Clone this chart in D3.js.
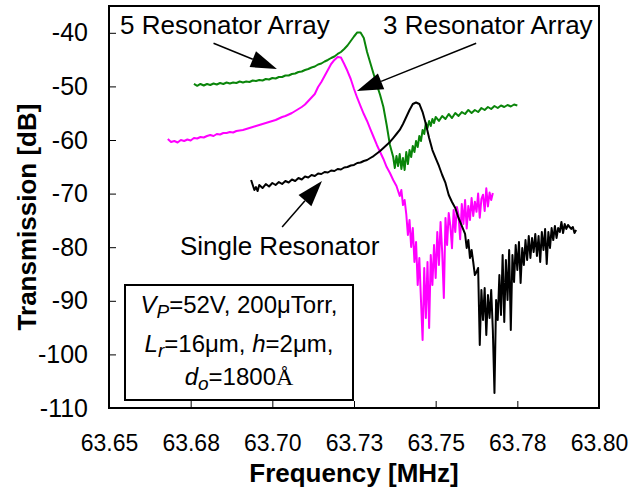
<!DOCTYPE html>
<html><head><meta charset="utf-8">
<script src="https://cdn.jsdelivr.net/npm/d3@7"></script>
<style>
body{margin:0;background:#fff}
svg{display:block}
text{font-family:"Liberation Sans",Arial,Helvetica,sans-serif;fill:#000}
</style>
</head><body>
<svg id="chart" width="631" height="490"></svg>
<script>
// ---------- data ----------
const xTicks = [63.65, 63.675, 63.70, 63.725, 63.75, 63.775, 63.80];
const xTickLabels = ["63.65", "63.68", "63.70", "63.73", "63.75", "63.78", "63.80"];
const yTicks = [-110, -100, -90, -80, -70, -60, -50, -40];
const yTickLabels = ["-110", "-100", "-90", "-80", "-70", "-60", "-50", "-40"];
const xTitle = "Frequency [MHz]";
const yTitle = "Transmission [dB]";
const seriesNames = ["5 Resonator Array", "3 Resonator Array", "Single Resonator"];
const seriesColors = ["#0a850a", "#ff00ff", "#000000"];

// 5 resonator array [frequency MHz, transmission dB]
const fiveResonator = [
[63.676,-49.55],[63.677,-49.90],[63.678,-49.55],[63.679,-49.83],[63.680,-49.55],[63.681,-49.74],[63.682,-49.46],[63.683,-49.65],[63.684,-49.37],[63.685,-49.55],
[63.686,-49.27],[63.687,-49.46],[63.688,-49.27],[63.689,-49.37],[63.690,-49.09],[63.691,-49.27],[63.692,-49.09],[63.693,-49.18],[63.694,-48.90],[63.695,-48.99],
[63.696,-48.81],[63.697,-48.90],[63.698,-48.62],[63.699,-48.71],[63.700,-48.43],[63.701,-48.53],[63.702,-48.25],[63.703,-48.25],[63.704,-47.97],[63.705,-47.97],
[63.706,-47.69],[63.707,-47.59],[63.708,-47.31],[63.709,-47.22],[63.710,-46.94],[63.711,-46.75],[63.712,-46.47],[63.713,-46.29],[63.714,-45.91],[63.715,-45.73],
[63.716,-45.35],[63.717,-45.07],[63.718,-44.70],[63.719,-44.42],[63.720,-43.95],[63.721,-43.58],[63.722,-43.02],[63.723,-42.37],[63.724,-41.53],[63.725,-40.69],
[63.726,-39.94],[63.727,-39.94],[63.728,-40.97],[63.729,-43.58],[63.730,-45.63],[63.731,-47.69],[63.732,-49.74],[63.733,-51.60],[63.734,-53.84],[63.735,-57.20],
[63.736,-60.93],[63.737,-63.17],[63.7375,-65.22],[63.738,-62.99],[63.7385,-64.85],[63.739,-62.61],[63.7395,-65.41],[63.740,-63.36],[63.7405,-65.60],[63.741,-62.24],
[63.7415,-64.48],[63.742,-61.87],[63.7425,-63.17],[63.743,-61.12],[63.7435,-62.24],[63.744,-60.19],[63.7445,-61.31],[63.745,-59.25],[63.7455,-60.19],[63.746,-58.13],
[63.7465,-58.88],[63.747,-56.83],[63.7475,-57.76],[63.748,-56.45],[63.7485,-57.39],[63.749,-56.08],[63.7495,-56.83],[63.750,-55.71],[63.751,-56.45],[63.752,-55.52],
[63.753,-56.08],[63.754,-55.15],[63.755,-55.90],[63.756,-54.96],[63.757,-55.52],[63.758,-54.78],[63.759,-55.15],[63.760,-54.40],[63.761,-54.96],[63.762,-54.40],
[63.763,-54.78],[63.764,-54.03],[63.765,-54.40],[63.766,-53.84],[63.767,-54.22],[63.768,-53.66],[63.769,-54.03],[63.770,-53.56],[63.771,-53.84],[63.772,-53.47],
[63.773,-53.75],[63.774,-53.38],[63.775,-53.56]
];

// 3 resonator array
const threeResonator = [
[63.668,-59.81],[63.669,-60.37],[63.670,-60.19],[63.671,-60.47],[63.672,-60.00],[63.673,-60.19],[63.674,-59.91],[63.675,-60.09],[63.676,-59.63],[63.677,-59.72],
[63.678,-59.44],[63.679,-59.53],[63.680,-59.25],[63.681,-59.07],[63.682,-59.25],[63.683,-58.88],[63.684,-58.97],[63.685,-58.69],[63.686,-58.69],[63.687,-58.51],
[63.688,-58.60],[63.689,-58.32],[63.690,-58.23],[63.691,-58.13],[63.692,-57.95],[63.693,-57.76],[63.694,-57.57],[63.695,-57.39],[63.696,-57.20],[63.697,-57.01],
[63.698,-56.83],[63.699,-56.64],[63.700,-56.45],[63.701,-56.27],[63.702,-55.99],[63.703,-55.71],[63.704,-55.52],[63.705,-55.24],[63.706,-54.96],[63.707,-54.59],
[63.708,-54.22],[63.709,-53.84],[63.710,-53.38],[63.711,-52.72],[63.712,-52.07],[63.713,-51.42],[63.714,-50.11],[63.715,-49.18],[63.716,-48.06],[63.717,-46.94],
[63.718,-45.82],[63.719,-45.07],[63.720,-44.51],[63.721,-44.61],[63.722,-45.82],[63.723,-47.13],[63.724,-48.62],[63.725,-50.48],[63.726,-52.16],[63.727,-53.66],
[63.728,-55.15],[63.729,-56.45],[63.730,-57.95],[63.731,-59.44],[63.732,-60.93],[63.733,-62.24],[63.734,-63.54],[63.735,-65.04],[63.736,-66.16],[63.737,-67.46],
[63.738,-68.58],[63.739,-70.45],[63.7395,-69.33],[63.740,-72.13],[63.7405,-71.20],[63.741,-73.81],[63.7415,-77.72],[63.742,-74.92],[63.7425,-79.96],[63.743,-76.42],
[63.7435,-82.76],[63.744,-79.03],[63.7445,-87.05],[63.745,-82.02],[63.7455,-89.85],[63.746,-97.31],[63.7465,-83.88],[63.747,-93.21],[63.7475,-82.76],[63.748,-95.07],
[63.7485,-81.46],[63.749,-87.05],[63.7495,-79.59],[63.750,-85.75],[63.7505,-77.16],[63.751,-83.32],[63.7515,-75.30],[63.752,-80.90],[63.7525,-89.48],[63.753,-74.55],
[63.7535,-79.59],[63.754,-73.62],[63.7545,-76.00],[63.755,-80.20],[63.7555,-73.06],[63.756,-77.16],[63.7565,-72.50],[63.757,-74.00],[63.7575,-78.50],[63.758,-71.94],
[63.7585,-75.67],[63.759,-71.19],[63.7595,-76.50],[63.760,-72.30],[63.7605,-74.92],[63.761,-70.82],[63.7615,-74.18],[63.762,-71.50],[63.7625,-73.40],[63.763,-70.00],
[63.7635,-74.50],[63.764,-71.01],[63.7645,-70.20],[63.765,-73.25],[63.7655,-69.00],[63.766,-72.40],[63.7665,-69.80],[63.767,-71.20],[63.7675,-69.90]
];

// single resonator
const singleResonator = [
[63.6935,-67.46],[63.694,-68.40],[63.6945,-69.33],[63.695,-68.77],[63.6955,-69.52],[63.696,-68.40],[63.697,-68.96],[63.698,-68.21],[63.699,-68.68],[63.700,-68.02],
[63.701,-68.40],[63.702,-67.84],[63.703,-68.21],[63.704,-67.65],[63.705,-67.93],[63.706,-67.37],[63.707,-67.65],[63.708,-67.09],[63.709,-67.37],[63.710,-66.81],
[63.711,-67.00],[63.712,-66.53],[63.713,-66.72],[63.714,-66.25],[63.715,-66.34],[63.716,-65.97],[63.717,-66.06],[63.718,-65.69],[63.719,-65.78],[63.720,-65.41],
[63.721,-65.50],[63.722,-65.13],[63.723,-65.04],[63.724,-64.76],[63.725,-64.66],[63.726,-64.29],[63.727,-64.20],[63.728,-63.92],[63.729,-63.73],[63.730,-63.36],
[63.731,-62.99],[63.732,-62.52],[63.733,-62.05],[63.734,-61.49],[63.735,-60.93],[63.736,-60.37],[63.737,-59.63],[63.738,-58.88],[63.739,-58.13],[63.740,-57.01],
[63.741,-55.71],[63.742,-54.40],[63.743,-53.28],[63.744,-53.00],[63.745,-53.28],[63.746,-54.78],[63.747,-57.01],[63.748,-59.63],[63.749,-61.87],[63.750,-63.36],
[63.751,-64.85],[63.752,-66.53],[63.753,-68.02],[63.754,-70.26],[63.755,-71.57],[63.756,-72.69],[63.757,-74.55],[63.758,-76.04],[63.759,-77.53],[63.7595,-80.15],
[63.760,-78.66],[63.7605,-82.02],[63.761,-80.52],[63.7615,-82.76],[63.762,-85.19],[63.7625,-84.63],[63.763,-83.88],[63.7635,-98.25],[63.764,-88.00],[63.7645,-93.58],
[63.765,-87.61],[63.7655,-96.38],[63.766,-88.92],[63.7665,-93.21],[63.767,-88.00],[63.7675,-95.45],[63.768,-107.20],[63.7685,-89.85],[63.769,-93.58],[63.7695,-85.19],
[63.770,-92.65],[63.7705,-81.46],[63.771,-93.96],[63.7715,-82.39],[63.772,-89.85],[63.7725,-80.52],[63.773,-95.45],[63.7735,-81.46],[63.774,-86.49],[63.7745,-79.59],
[63.775,-84.26],[63.7755,-79.03],[63.776,-86.68],[63.7765,-80.15],[63.777,-83.32],[63.7775,-78.66],[63.778,-82.39],[63.7785,-77.91],[63.779,-82.02],[63.7795,-78.28],
[63.780,-80.90],[63.7805,-77.53],[63.781,-81.64],[63.7815,-77.91],[63.782,-82.76],[63.7825,-77.16],[63.783,-80.52],[63.7835,-76.60],[63.784,-83.13],[63.7845,-77.16],
[63.785,-80.15],[63.7855,-76.42],[63.786,-78.66],[63.7865,-76.04],[63.787,-78.28],[63.7875,-76.42],[63.788,-77.16],[63.7885,-75.30],[63.789,-77.35],[63.7895,-75.67],
[63.790,-76.60],[63.7905,-75.86],[63.791,-76.23],[63.7915,-76.60],[63.792,-76.23],[63.7925,-77.35],[63.793,-76.79]
];

// annotation labels and arrows (data coordinates: frequency, dB)
const labelPos = [[63.6534, -40.2], [63.7339, -40.2], [63.6717, -81.45]];
const arrowTail = [[63.6820, -41.96], [63.7624, -41.96], [63.7030, -76.23]];
const arrowTip  = [[63.7014, -46.75], [63.7259, -50.86], [63.7152, -67.65]];

// ---------- layout ----------
const W = 631, H = 490;
const L = 109, R = 599, T = 6, B = 408;
const svg = d3.select("#chart");
const x = d3.scaleLinear().domain([63.65, 63.80]).range([L, R]);
const y = d3.scaleLinear().domain([-110, -35]).range([B, T]);

// axes
const xAxis = d3.axisBottom(x).tickValues(xTicks)
  .tickFormat((d, i) => xTickLabels[i]).tickSizeInner(-7).tickSizeOuter(0).tickPadding(27);
const gx = svg.append("g").attr("transform", `translate(0,${B})`).call(xAxis);
gx.select(".domain").remove();
gx.selectAll(".tick line").attr("stroke", "#000").attr("stroke-width", 1);
gx.selectAll(".tick text").attr("font-size", 23).attr("font-family", "Liberation Sans, Arial, sans-serif").attr("fill", "#000");

const yAxis = d3.axisLeft(y).tickValues(yTicks)
  .tickFormat((d, i) => yTickLabels[i]).tickSizeInner(-7).tickSizeOuter(0).tickPadding(21);
const gy = svg.append("g").attr("transform", `translate(${L},0)`).call(yAxis);
gy.select(".domain").remove();
gy.selectAll(".tick line").attr("stroke", "#000").attr("stroke-width", 1);
gy.selectAll(".tick text").attr("font-size", 25).attr("font-family", "Liberation Sans, Arial, sans-serif").attr("fill", "#000");

// frame
svg.append("rect").attr("x", L).attr("y", T).attr("width", R - L).attr("height", B - T)
  .attr("fill", "none").attr("stroke", "#000").attr("stroke-width", 2);

// axis titles
svg.append("text").attr("x", (L + R) / 2).attr("y", 482).attr("text-anchor", "middle")
  .attr("font-size", 26).attr("font-weight", "bold").text(xTitle);
svg.append("text").attr("transform", `translate(36,${(T + B) / 2 + 10}) rotate(-90)`)
  .attr("text-anchor", "middle").attr("font-size", 26).attr("font-weight", "bold").text(yTitle);

// series
const line = d3.line().x(d => x(d[0])).y(d => y(d[1]));
[fiveResonator, threeResonator, singleResonator].forEach((s, i) => {
  svg.append("path").datum(s).attr("d", line).attr("fill", "none")
    .attr("stroke", seriesColors[i]).attr("stroke-width", 2).attr("stroke-linejoin", "round");
});

// annotation labels
seriesNames.forEach((n, i) => {
  svg.append("text").attr("x", x(labelPos[i][0])).attr("y", y(labelPos[i][1]))
    .attr("font-size", 26).text(n);
});

// arrows
arrowTail.forEach((t, i) => {
  const x0 = x(t[0]), y0 = y(t[1]);
  const x1 = x(arrowTip[i][0]), y1 = y(arrowTip[i][1]);
  const dx = x1 - x0, dy = y1 - y0, len = Math.hypot(dx, dy);
  const ux = dx / len, uy = dy / len;
  const hl = 26, hw = 8.5;
  const bx = x1 - ux * hl, by = y1 - uy * hl;
  svg.append("line").attr("x1", x0).attr("y1", y0).attr("x2", bx).attr("y2", by)
    .attr("stroke", "#000").attr("stroke-width", 1.5);
  svg.append("polygon")
    .attr("points", [[x1, y1], [bx - uy * hw, by + ux * hw], [bx + uy * hw, by - ux * hw]].map(p => p.join(",")).join(" "))
    .attr("fill", "#000");
});

// parameter box
const box = svg.append("g");
box.append("rect").attr("x", 125).attr("y", 285).attr("width", 228).attr("height", 115)
  .attr("fill", "#fff").attr("stroke", "#000").attr("stroke-width", 2);
const cx = 239, fs = 24, sfs = 19;
const t1 = box.append("text").attr("x", cx).attr("y", 313).attr("text-anchor", "middle").attr("font-size", fs);
t1.append("tspan").attr("font-style", "italic").text("V");
t1.append("tspan").attr("font-style", "italic").attr("font-size", sfs).attr("dy", 5).text("P");
t1.append("tspan").attr("dy", -5).text("=52V, 200\u03bcTorr,");
const t2 = box.append("text").attr("x", cx).attr("y", 352).attr("text-anchor", "middle").attr("font-size", fs);
t2.append("tspan").attr("font-style", "italic").text("L");
t2.append("tspan").attr("font-style", "italic").attr("font-size", sfs).attr("dy", 5).text("r");
t2.append("tspan").attr("dy", -5).text("=16\u03bcm, ");
t2.append("tspan").attr("font-style", "italic").text("h");
t2.append("tspan").text("=2\u03bcm,");
const t3 = box.append("text").attr("x", cx).attr("y", 385).attr("text-anchor", "middle").attr("font-size", fs);
t3.append("tspan").attr("font-style", "italic").text("d");
t3.append("tspan").attr("font-style", "italic").attr("font-size", sfs).attr("dy", 5).text("o");
t3.append("tspan").attr("dy", -5).text("=1800");
t3.append("tspan").attr("font-family", "Liberation Serif, Times New Roman, serif").text("\u00c5");
</script>
</body></html>
